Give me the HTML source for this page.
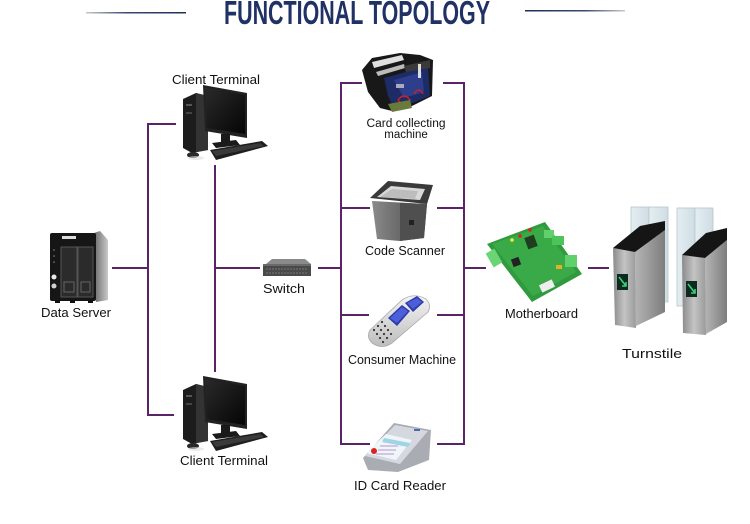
<!DOCTYPE html>
<html><head><meta charset="utf-8"><style>
html,body{margin:0;padding:0;background:#fff;}
svg{display:block;}
text{font-family:"Liberation Sans",sans-serif;}
</style></head><body>
<svg width="750" height="524" viewBox="0 0 750 524" xmlns="http://www.w3.org/2000/svg">
<defs>
<linearGradient id="tl" x1="0" x2="1"><stop offset="0" stop-color="#c8c8c8"/><stop offset="0.4" stop-color="#3a4a70"/><stop offset="1" stop-color="#1e2d5a"/></linearGradient>
<linearGradient id="tr" x1="0" x2="1"><stop offset="0" stop-color="#1e2d5a"/><stop offset="0.6" stop-color="#3a4a70"/><stop offset="1" stop-color="#c8c8c8"/></linearGradient>
<linearGradient id="side" x1="0" x2="1"><stop offset="0" stop-color="#6a6a6a"/><stop offset="1" stop-color="#c9c9c9"/></linearGradient>
<linearGradient id="steel" x1="0" x2="1"><stop offset="0" stop-color="#8a8a8a"/><stop offset="0.5" stop-color="#c4c4c4"/><stop offset="1" stop-color="#9a9a9a"/></linearGradient>
<linearGradient id="steel2" x1="0" x2="1"><stop offset="0" stop-color="#b5b5b5"/><stop offset="1" stop-color="#7d7d7d"/></linearGradient>
<linearGradient id="scr" x1="0" y1="0" x2="1" y2="1"><stop offset="0" stop-color="#2a2a2a"/><stop offset="1" stop-color="#050505"/></linearGradient>
<linearGradient id="scan" x1="0" x2="1"><stop offset="0" stop-color="#8a8a8a"/><stop offset="1" stop-color="#4a4a4a"/></linearGradient>
<linearGradient id="cons" x1="0" y1="0" x2="0" y2="1"><stop offset="0" stop-color="#f4f4f4"/><stop offset="1" stop-color="#bdbdbd"/></linearGradient>
<linearGradient id="glass" x1="0" x2="1"><stop offset="0" stop-color="#e4eef2"/><stop offset="1" stop-color="#cfdde3"/></linearGradient>
</defs>

<!-- Title -->
<rect x="86" y="12" width="100" height="1.5" fill="url(#tl)"/>
<rect x="525" y="10" width="100" height="1.5" fill="url(#tr)"/>
<text x="224" y="24" font-size="33" font-weight="bold" fill="#1f3165" textLength="266" lengthAdjust="spacingAndGlyphs">FUNCTIONAL TOPOLOGY</text>

<!-- Connectors -->
<g stroke="#5a2268" stroke-width="2" fill="none">
<path d="M112,268 H148 M148,124 V416 M147,124 H176 M147,415 H174"/>
<path d="M215,165 V372 M215,268 H260"/>
<path d="M318,268 H341 M341,82 V445 M340,83 H362 M443,83 H465 M340,208 H370 M437,208 H465 M340,315 H369 M437,315 H465 M340,444 H370 M437,444 H465 M464,82 V445 M464,268 H486 M588,268 H609"/>
</g>

<!-- Data Server -->
<g>
<polygon points="94,233 100,231 108,240 108,300 96,302" fill="url(#side)"/>
<rect x="50" y="233" width="46" height="68" rx="2" fill="#161616"/>
<rect x="62" y="236" width="14" height="3" fill="#ddd"/>
<rect x="61" y="247" width="16" height="50" fill="#2b2b2b" stroke="#555" stroke-width="1"/>
<rect x="78" y="247" width="15" height="50" fill="#2b2b2b" stroke="#555" stroke-width="1"/>
<rect x="64" y="282" width="10" height="10" fill="none" stroke="#666"/>
<rect x="81" y="282" width="9" height="10" fill="none" stroke="#666"/>
<circle cx="54" cy="277" r="2.5" fill="#e8e8e8"/>
<circle cx="54" cy="286" r="2.5" fill="#cfcfcf"/>
<circle cx="54" cy="250" r="0.8" fill="#888"/><circle cx="54" cy="256" r="0.8" fill="#888"/><circle cx="54" cy="262" r="0.8" fill="#888"/>
<rect x="55" y="300" width="5" height="3" fill="#111"/><rect x="70" y="300" width="5" height="3" fill="#111"/><rect x="88" y="300" width="5" height="3" fill="#111"/>
</g>
<text x="41" y="317" font-size="13" fill="#111" textLength="70" lengthAdjust="spacingAndGlyphs">Data Server</text>

<!-- Client Terminal top -->
<g id="pc">
<polygon points="183,99 196,93 208,96 208,150 192,153 183,148" fill="#1c1c1c"/>
<polygon points="196,93 208,96 208,150 196,152" fill="#333"/>
<rect x="186" y="104" width="6" height="2" fill="#555"/>
<rect x="186" y="112" width="6" height="2" fill="#444"/>
<polygon points="203,85 247,93 247,138 205,131" fill="#222"/>
<polygon points="205,88 245,95 245,134 207,128" fill="url(#scr)"/>
<rect x="221" y="134" width="9" height="9" fill="#1a1a1a"/>
<polygon points="212,143 236,140 240,145 216,148" fill="#1a1a1a"/>
<polygon points="210,150 262,141 268,146 216,160" fill="#1e1e1e"/>
<polygon points="212,151 260,143 264,146 216,156" fill="#3a3a3a"/>
<ellipse cx="193" cy="155" rx="6" ry="3" fill="#2a2a2a"/>
<ellipse cx="196" cy="158" rx="8" ry="2" fill="#ddd" opacity="0.6"/>
</g>
<text x="172" y="84" font-size="13" fill="#111" textLength="88" lengthAdjust="spacingAndGlyphs">Client Terminal</text>

<!-- Client Terminal bottom -->
<use href="#pc" transform="translate(0,291)"/>
<text x="180" y="465" font-size="13" fill="#111" textLength="88" lengthAdjust="spacingAndGlyphs">Client Terminal</text>

<!-- Switch -->
<g>
<polygon points="266,264 272,259 305,259 311,264" fill="#8a8a8a"/>
<rect x="263" y="264" width="48" height="12" fill="#4a4a4a"/>
<rect x="263" y="264" width="48" height="2" fill="#6a6a6a"/>
<path d="M266,269 H308 M266,273 H308" stroke="#777" stroke-width="1" stroke-dasharray="2,1"/>
</g>
<text x="263" y="293" font-size="13" fill="#111" textLength="42" lengthAdjust="spacingAndGlyphs">Switch</text>

<!-- Card collecting machine -->
<g>
<polygon points="362,70 372,58 400,53 420,55 433,60 432,96 412,106 392,111 380,108 368,92" fill="#181818"/>
<polygon points="372,62 402,55 404,60 374,68" fill="#e0e0e0"/>
<polygon points="376,72 404,64 405,68 378,76" fill="#bbb"/>
<polygon points="384,78 428,66 430,96 410,104 394,108 388,96" fill="#1d2b66"/>
<polygon points="394,80 422,72 424,92 404,98" fill="#2c3e8c"/>
<polygon points="404,66 430,60 430,68 406,72" fill="#3a3a3a"/>
<path d="M398,100 q6,-8 12,0 q-6,8 -12,0" fill="none" stroke="#c22" stroke-width="1.5"/>
<path d="M414,94 q5,-8 9,0" fill="none" stroke="#c22" stroke-width="1.5"/>
<polygon points="388,104 410,100 412,108 392,112" fill="#6a7a3a"/>
<rect x="418" y="64" width="3" height="14" fill="#ddd"/>
<rect x="396" y="84" width="8" height="4" fill="#aab"/>
</g>
<text x="406" y="127" font-size="11.5" fill="#111" text-anchor="middle" textLength="79" lengthAdjust="spacingAndGlyphs">Card collecting</text>
<text x="406" y="138" font-size="11.5" fill="#111" text-anchor="middle">machine</text>

<!-- Code Scanner -->
<g>
<polygon points="370,198 388,181 433,185 427,204" fill="#3a3a3a"/>
<polygon points="377,197 391,186 425,189 420,200" fill="#d9d9d9"/>
<polygon points="380,197 392,189 418,191 415,199" fill="#bdbdbd"/>
<polygon points="372,201 427,204 424,238 400,241 377,239" fill="url(#scan)"/>
<polygon points="400,203 427,204 424,238 400,241" fill="#4f4f4f"/>
<rect x="409" y="220" width="5" height="5" fill="#222"/>
</g>
<text x="365" y="255" font-size="13" fill="#111" textLength="80" lengthAdjust="spacingAndGlyphs">Code Scanner</text>

<!-- Consumer Machine -->
<g>
<path d="M370,330 L402,300 Q414,292 426,299 Q432,305 428,312 L392,343 Q382,350 372,343 Q366,337 370,330 Z" fill="url(#cons)" stroke="#aaa" stroke-width="0.8"/>
<polygon points="388,318 402,305 410,311 397,326" fill="#2f3aa8"/>
<polygon points="390,318 402,307 408,311 397,323" fill="#4a60d8"/>
<polygon points="405,303 417,296 424,302 413,312" fill="#2f3aa8"/>
<polygon points="407,303 417,298 422,302 413,309" fill="#4a60d8"/>
<g fill="#333">
<circle cx="374" cy="330" r="1.1"/><circle cx="378" cy="326" r="1.1"/><circle cx="382" cy="322" r="1.1"/>
<circle cx="377" cy="334" r="1.1"/><circle cx="381" cy="330" r="1.1"/><circle cx="385" cy="326" r="1.1"/>
<circle cx="380" cy="338" r="1.1"/><circle cx="384" cy="334" r="1.1"/><circle cx="388" cy="330" r="1.1"/>
<circle cx="383" cy="342" r="1.1"/><circle cx="387" cy="338" r="1.1"/><circle cx="391" cy="334" r="1.1"/>
</g>
</g>
<text x="348" y="364" font-size="13" fill="#111" textLength="108" lengthAdjust="spacingAndGlyphs">Consumer Machine</text>

<!-- ID Card Reader -->
<g>
<polygon points="363,458 394,423 431,430 429,460 398,472 368,470" fill="#a9acb3"/>
<polygon points="365,456 395,425 428,431 400,464" fill="#d5d8de"/>
<polygon points="366,453 386,434 412,440 396,460" fill="#eef6fa"/>
<polygon points="384,438 410,443 408,447 382,442" fill="#9fd3e6"/>
<circle cx="374" cy="451" r="3" fill="#d22"/>
<path d="M380,446 H398 M378,450 H396 M376,454 H394" stroke="#a7b" stroke-width="0.7"/>
<rect x="414" y="429" width="6" height="2" fill="#4a6ab0"/>
</g>
<text x="354" y="490" font-size="13" fill="#111" textLength="92" lengthAdjust="spacingAndGlyphs">ID Card Reader</text>

<!-- Motherboard -->
<g>
<polygon points="487,244 545,222 582,274 532,302" fill="#2f9a3e"/>
<polygon points="492,244 543,226 576,272 533,296" fill="#3aaa48"/>
<rect x="526" y="236" width="10" height="12" fill="#1f3d1f" transform="rotate(-20 531 242)"/>
<rect x="512" y="258" width="8" height="8" fill="#222" transform="rotate(-20 516 262)"/>
<rect x="544" y="230" width="10" height="8" fill="#5fd06a"/>
<rect x="552" y="236" width="12" height="9" fill="#4cc45a"/>
<rect x="565" y="255" width="12" height="12" fill="#5fd06a"/>
<rect x="489" y="250" width="10" height="16" fill="#6ad476" transform="rotate(-30 494 258)"/>
<rect x="540" y="282" width="14" height="8" fill="#eee" transform="rotate(-25 547 286)"/>
<circle cx="520" cy="236" r="1.8" fill="#d22"/><circle cx="530" cy="230" r="1.8" fill="#d22"/><circle cx="512" cy="240" r="1.8" fill="#ee3"/>
<rect x="556" y="265" width="6" height="4" fill="#e6b020"/>
</g>
<text x="505" y="318" font-size="13" fill="#111" textLength="73" lengthAdjust="spacingAndGlyphs">Motherboard</text>

<!-- Turnstile -->
<g>
<rect x="631" y="207" width="18" height="95" fill="url(#glass)" stroke="#b8c6cc" stroke-width="0.8"/>
<rect x="649" y="207" width="19" height="95" fill="url(#glass)" stroke="#b8c6cc" stroke-width="0.8"/>
<rect x="677" y="208" width="18" height="98" fill="url(#glass)" stroke="#b8c6cc" stroke-width="0.8"/>
<rect x="695" y="208" width="18" height="98" fill="url(#glass)" stroke="#b8c6cc" stroke-width="0.8"/>
<!-- left gate -->
<polygon points="635,252 665,230 665,312 636,326" fill="url(#steel2)"/>
<polygon points="613,248 635,252 636,328 615,325" fill="url(#steel)"/>
<polygon points="613,248 640,226 665,221 665,230 635,252" fill="#151515"/>
<rect x="617" y="274" width="11" height="16" fill="#0d2a1e"/>
<path d="M619,277 L626,286 M622,286 H626 V282" stroke="#3ad07a" stroke-width="1.6" fill="none"/>
<!-- right gate -->
<polygon points="705,258 727,240 727,322 706,334" fill="url(#steel2)"/>
<polygon points="682,255 705,258 706,335 683,333" fill="url(#steel)"/>
<polygon points="682,255 706,233 727,228 727,240 705,258" fill="#151515"/>
<rect x="686" y="281" width="11" height="16" fill="#0d2a1e"/>
<path d="M688,284 L695,293 M691,293 H695 V289" stroke="#3ad07a" stroke-width="1.6" fill="none"/>
</g>
<text x="622" y="358" font-size="13" fill="#111" textLength="60" lengthAdjust="spacingAndGlyphs">Turnstile</text>
</svg>
</body></html>
